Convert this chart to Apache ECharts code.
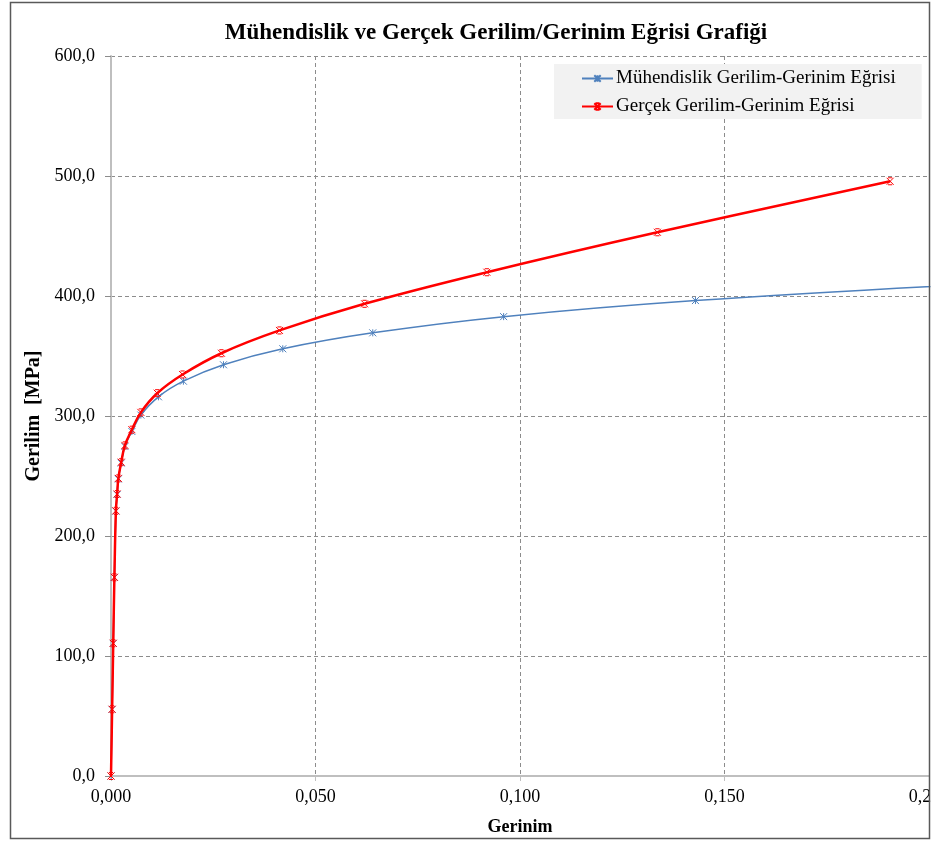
<!DOCTYPE html>
<html>
<head>
<meta charset="utf-8">
<script src="https://cdn.jsdelivr.net/npm/echarts@6/dist/echarts.min.js"></script>
<style>
  html, body { margin: 0; padding: 0; background: #ffffff; overflow: hidden; }
  #chart { width: 933px; height: 841px; }
</style>
</head>
<body>
<div id="chart"></div>
<script>
// Engineering stress-strain curve (strain, MPa)
const engStrain = [0, 0.000275, 0.00055, 0.00083, 0.0012, 0.0015, 0.0018, 0.0025, 0.0034, 0.0051, 0.0073, 0.0116, 0.0177, 0.0275, 0.0420, 0.0640, 0.0960, 0.1429, 0.2099];
const engStress = [0, 55.5, 110.5, 165.5, 220.7, 234.6, 247.5, 260.8, 274.6, 287.1, 300.8, 316.0, 329.0, 342.7, 356.0, 369.3, 382.8, 396.2, 409.6];

// True stress-strain curve (strain, MPa)
const trueStrain = [0, 0.000275, 0.00055, 0.00083, 0.0012, 0.0015, 0.0018, 0.0025, 0.0034, 0.0051, 0.0073, 0.0113, 0.0175, 0.0270, 0.0412, 0.0620, 0.0919, 0.1336, 0.1905];
const trueStress = [0, 55.6, 110.6, 165.6, 221.0, 235.0, 248.0, 261.5, 275.5, 288.6, 303.0, 319.0, 334.6, 352.3, 371.3, 393.5, 419.8, 453.1, 495.6];

const seriesNames = ['Mühendislik Gerilim-Gerinim Eğrisi', 'Gerçek Gerilim-Gerinim Eğrisi'];
const chartTitle = 'Mühendislik ve Gerçek Gerilim/Gerinim Eğrisi Grafiği';
const xAxisTitle = 'Gerinim';
const yAxisTitle = 'Gerilim  [MPa]';

const FONT = '"Liberation Serif", "Times New Roman", serif';

const pairs = (xs, ys) => xs.map((x, i) => [x, ys[i]]);
const fmtComma = (v, digits) => v.toFixed(digits).replace('.', ',');

const asteriskMark = 'path://M0,0L10,10M10,0L0,10M5,0L5,10';
const crossMark = 'path://M0,0L10,10M10,0L0,10M2,0L8,0M2,10L8,10';

const chart = echarts.init(document.getElementById('chart'), null, { renderer: 'canvas' });

chart.setOption({
  backgroundColor: '#ffffff',
  animation: false,
  textStyle: { fontFamily: FONT },
  title: {
    text: chartTitle,
    left: 491,
    top: 17,
    textAlign: 'center',
    textStyle: { fontFamily: FONT, fontSize: 23, fontWeight: 'bold', color: '#000000' }
  },
  legend: {
    orient: 'vertical',
    left: 554,
    top: 64,
    padding: [5, 26, 3, 27],
    itemGap: 9,
    itemWidth: 31,
    itemHeight: 8,
    backgroundColor: '#f2f2f2',
    textStyle: { fontFamily: FONT, fontSize: 19, color: '#000000', padding: [0, 0, 0, -2] },
    data: seriesNames
  },
  grid: {
    left: 111, right: 4, top: 56, bottom: 65,
    containLabel: false,
    outerBoundsMode: 'none'
  },
  xAxis: {
    type: 'value',
    min: 0,
    max: 0.2,
    interval: 0.05,
    name: xAxisTitle,
    nameLocation: 'middle',
    nameGap: 42,
    nameTextStyle: { fontFamily: FONT, fontSize: 18, fontWeight: 'bold', color: '#000000' },
    axisLine: { show: true, lineStyle: { color: '#bfbfbf', width: 2 } },
    axisTick: { show: true, length: 5, lineStyle: { color: '#bfbfbf' } },
    axisLabel: {
      margin: 12,
      fontFamily: FONT,
      fontSize: 18,
      color: '#000000',
      formatter: v => fmtComma(v, 3),
      showMaxLabel: true,
      hideOverlap: false
    },
    splitLine: { show: true, lineStyle: { color: '#8c8c8c', type: [4, 3], width: 1 } }
  },
  yAxis: {
    type: 'value',
    min: 0,
    max: 600,
    interval: 100,
    name: yAxisTitle,
    nameLocation: 'middle',
    nameGap: 67,
    nameRotate: 90,
    nameTextStyle: { fontFamily: FONT, fontSize: 20, fontWeight: 'bold', color: '#000000' },
    axisLine: { show: true, lineStyle: { color: '#bfbfbf', width: 2 } },
    axisTick: { show: true, length: 6, lineStyle: { color: '#8c8c8c' } },
    axisLabel: {
      margin: 16,
      fontFamily: FONT,
      fontSize: 18,
      color: '#000000',
      formatter: v => fmtComma(v, 1)
    },
    splitLine: { show: true, lineStyle: { color: '#8c8c8c', type: [4, 3], width: 1 } }
  },
  series: [
    {
      name: seriesNames[0],
      type: 'line',
      data: pairs(engStrain, engStress),
      smooth: 0.4,
      clip: true,
      symbol: asteriskMark,
      symbolSize: 7,
      showAllSymbol: true,
      lineStyle: { color: '#4f81bd', width: 1.5 },
      itemStyle: { color: '#4f81bd', borderColor: '#4f81bd', borderWidth: 1 },
      z: 2
    },
    {
      name: seriesNames[1],
      type: 'line',
      data: pairs(trueStrain, trueStress),
      smooth: 0.4,
      clip: true,
      symbol: crossMark,
      symbolSize: 7,
      showAllSymbol: true,
      lineStyle: { color: '#ff0000', width: 2.5 },
      itemStyle: { color: '#ff0000', borderColor: '#ff0000', borderWidth: 1 },
      z: 3
    }
  ],
  graphic: [
    {
      type: 'rect',
      silent: true,
      z: 100,
      shape: { x: 930.5, y: 0, width: 3, height: 841 },
      style: { fill: '#ffffff', stroke: null }
    },
    {
      type: 'rect',
      silent: true,
      z: 101,
      shape: { x: 10.5, y: 2.5, width: 919, height: 836 },
      style: { fill: null, stroke: '#595959', lineWidth: 1.5 }
    }
  ]
});
</script>
</body>
</html>
